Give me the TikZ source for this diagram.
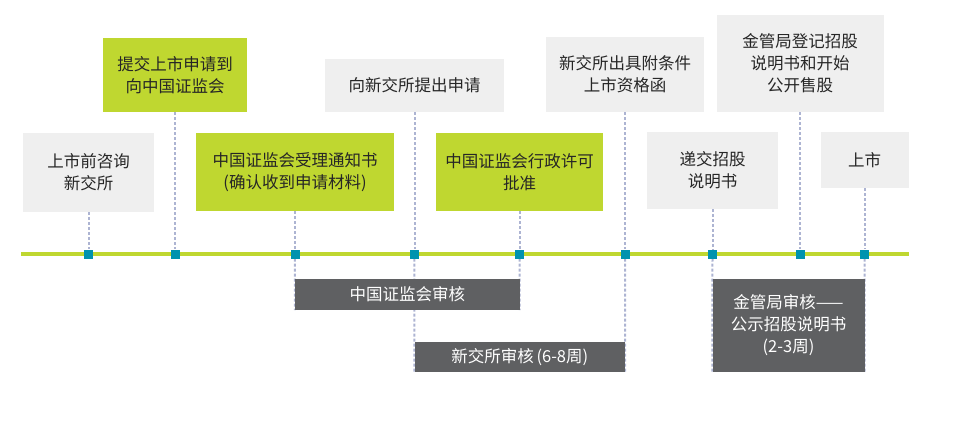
\documentclass[tikz,border=0pt]{standalone}
\usepackage{fontspec}
\setmainfont{Noto Sans CJK SC}
\usepackage{xcolor}
\usetikzlibrary{backgrounds}

\definecolor{limegreen}{HTML}{BFD730}
\definecolor{boxgray}{HTML}{EFEFEF}
\definecolor{darkbox}{HTML}{5F6062}
\definecolor{markteal}{HTML}{0093AE}
\definecolor{dotline}{HTML}{ADB4D2}

\tikzset{
    stage/.style={align=center, inner sep=0pt, text=black!85,
        font=\fontsize{16.5}{22}\selectfont},
    greybox/.style={stage, fill=boxgray},
    greenbox/.style={stage, fill=limegreen},
    review/.style={stage, fill=darkbox, text=white},
    marker/.style={fill=markteal, minimum size=9pt, inner sep=0pt},
    link/.style={dotline, line width=2pt, dash pattern=on 3pt off 2pt}
}

\begin{document}
\begin{tikzpicture}[x=1pt, y=-1pt]
    \useasboundingbox (0,0) rectangle (960,432);
    \def\ty{254} % height of the time line

    % boxes above the time line
    \node[greybox, minimum width=131pt, minimum height=79pt] (consult) at (88.5,172.5) {上市前咨询\\新交所};
    \node[greenbox, minimum width=144pt, minimum height=74pt] (submit) at (175,75) {提交上市申请到\\向中国证监会};
    \node[greenbox, minimum width=198pt, minimum height=78pt] (notice) at (295,172) {中国证监会受理通知书\\(确认收到申请材料)};
    \node[greybox, minimum width=179pt, minimum height=53pt] (apply) at (414.5,85.5) {向新交所提出申请};
    \node[greenbox, minimum width=167pt, minimum height=78pt] (permit) at (519.5,172) {中国证监会行政许可\\批准};
    \node[greybox, minimum width=158pt, minimum height=75pt] (letter) at (625,74.5) {新交所出具附条件\\上市资格函};
    \node[greybox, minimum width=131pt, minimum height=77pt] (prosp) at (712.5,170.5) {递交招股\\说明书};
    \node[greybox, minimum width=167pt, minimum height=97pt] (register) at (800,63.5) {金管局登记招股\\说明书和开始\\公开售股};
    \node[greybox, minimum width=88pt, minimum height=56pt] (listing) at (864.5,160) {上市};

    % review periods below the time line
    \node[review, minimum width=224.5pt, minimum height=31pt] (csrcrev) at (407.25,294.5) {中国证监会审核};
    \node[review, minimum width=210.5pt, minimum height=30pt] (sgxrev) at (519.75,357) {新交所审核\,(6-8周)};
    \node[review, minimum width=152pt, minimum height=93pt] (masrev) at (788.5,325.5) {金管局审核——\\公示招股说明书\\(2-3周)};

    % time line with its markers
    \coordinate (tstart) at (21,\ty);
    \coordinate (tend) at (909,\ty);
    \foreach \name/\x in {m1/88.5,m2/175,m3/295,m4/414.5,m5/519.5,m6/625,m7/712.5,m8/800,m9/864.5}
    {
        \node[marker] (\name) at (\x,\ty) {};
    }

    \begin{pgfonlayer}{background}
        \draw[limegreen, line width=4pt] (tstart) -- (tend);
        \draw[link] (consult) -- (m1);
        \draw[link] (submit) -- (m2);
        \draw[link] (notice) -- (m3);
        \draw[link] (apply) -- (m4);
        \draw[link] (permit) -- (m5);
        \draw[link] (letter) -- (m6);
        \draw[link] (prosp) -- (m7);
        \draw[link] (register) -- (m8);
        \draw[link] (listing) -- (m9);
        \draw[link] (m3) -- (csrcrev.south west);
        \draw[link] (m5) -- (csrcrev.south east);
        \draw[link] (m4) -- (sgxrev.south west);
        \draw[link] (m6) -- (sgxrev.south east);
        \draw[link] (m7) -- (masrev.south west);
        \draw[link] (m9) -- (masrev.south east);
    \end{pgfonlayer}
\end{tikzpicture}
\end{document}
